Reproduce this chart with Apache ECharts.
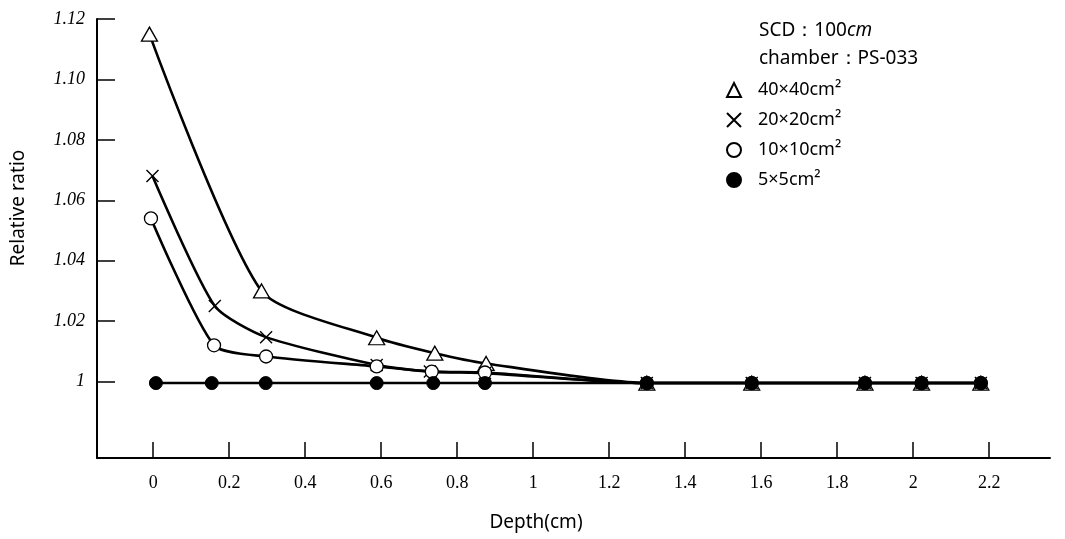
<!DOCTYPE html>
<html>
<head>
<meta charset="utf-8">
<script src="https://cdn.jsdelivr.net/npm/echarts@6/dist/echarts.min.js"></script>
<style>
  html, body { margin: 0; padding: 0; background: #fff; }
  #chart { width: 1065px; height: 539px; }
</style>
</head>
<body>
<div id="chart"></div>
<script>
// depth (cm) and relative ratio
const depth40 = [-0.01, 0.285, 0.588, 0.741, 0.876, 1.299, 1.575, 1.873, 2.022, 2.178]
const ratio40 = [1.115, 1.030, 1.0145, 1.0094, 1.006, 0.9995, 0.9995, 0.9995, 0.9995, 0.9995]

const depth20 = [-0.002, 0.162, 0.297, 0.588, 0.728, 0.873, 1.299, 1.575, 1.873, 2.022, 2.178]
const ratio20 = [1.068, 1.025, 1.0147, 1.0055, 1.0033, 1.0028, 0.9995, 0.9995, 0.9995, 0.9995, 0.9995]

const depth10 = [-0.006, 0.16, 0.297, 0.588, 0.733, 0.873, 1.299, 1.575, 1.873, 2.022, 2.178]
const ratio10 = [1.054, 1.012, 1.0083, 1.005, 1.0033, 1.003, 0.9995, 0.9995, 0.9995, 0.9995, 0.9995]

const depth5 = [0.007, 0.154, 0.296, 0.588, 0.737, 0.873, 1.299, 1.575, 1.873, 2.022, 2.178]
const ratio5 = [0.9995, 0.9995, 0.9995, 0.9995, 0.9995, 0.9995, 0.9995, 0.9995, 0.9995, 0.9995, 0.9995]

const xTicks = [0, 0.2, 0.4, 0.6, 0.8, 1, 1.2, 1.4, 1.6, 1.8, 2, 2.2]
const yTicks = [1, 1.02, 1.04, 1.06, 1.08, 1.10, 1.12]

const seriesNames = ['40×40cm²', '20×20cm²', '10×10cm²', '5×5cm²']

const pairs = (xs, ys) => xs.map((x, i) => [x, ys[i]])

const crossPath = 'path://M0,0L10,10M10,0L0,10'

const chart = echarts.init(document.getElementById('chart'), null, { renderer: 'canvas' })

const lineBase = {
  type: 'line',
  smooth: 0.22,
  lineStyle: { color: '#000', width: 2.6 },
  z: 2
}

const titleFont = '19px "Noto Sans"'

const option = {
  backgroundColor: '#fff',
  animation: false,
  textStyle: { fontFamily: 'Noto Sans', color: '#000' },
  grid: { left: 97, top: 19, right: 15, bottom: 81 },
  legend: {
    orient: 'vertical',
    left: 721,
    top: 76,
    itemWidth: 14,
    itemHeight: 14,
    itemGap: 12,
    selectedMode: false,
    textStyle: { fontSize: 18, color: '#000', fontFamily: 'Noto Sans', padding: [0, 0, 0, 12] },
    data: [
      { name: seriesNames[0], icon: 'triangle' },
      { name: seriesNames[1], icon: crossPath },
      { name: seriesNames[2], icon: 'circle' },
      { name: seriesNames[3], icon: 'circle' }
    ]
  },
  graphic: [
    {
      type: 'text', x: 759, y: 31,
      style: {
        text: 'SCD：100{i|cm}',
        font: titleFont, fill: '#000', verticalAlign: 'middle',
        rich: { i: { fontStyle: 'italic', fontSize: 19, fontFamily: 'Noto Sans' } }
      }
    },
    {
      type: 'text', x: 759, y: 59,
      style: { text: 'chamber：PS-033', font: titleFont, fill: '#000', verticalAlign: 'middle' }
    },
    {
      type: 'text', x: 19, y: 208, rotation: Math.PI / 2,
      style: { text: 'Relative ratio', font: titleFont, fill: '#000', align: 'center', verticalAlign: 'middle' }
    },
    {
      type: 'text', x: 536, y: 523,
      style: { text: 'Depth(cm)', font: titleFont, fill: '#000', align: 'center', verticalAlign: 'middle' }
    }
  ],
  xAxis: {
    type: 'value',
    min: -0.148,
    max: 2.36,
    axisLine: { show: true, onZero: false, lineStyle: { color: '#000', width: 2 } },
    axisTick: { show: true, inside: true, length: 16, lineStyle: { color: '#000', width: 1.5 }, customValues: xTicks },
    axisLabel: {
      customValues: xTicks,
      margin: 16,
      fontSize: 18,
      fontFamily: 'Liberation Serif',
      color: '#000',
      formatter: v => String(v)
    },
    splitLine: { show: false }
  },
  yAxis: {
    type: 'value',
    min: 0.9747,
    max: 1.12,
    axisLine: { show: true, onZero: false, lineStyle: { color: '#000', width: 2 } },
    axisTick: { show: true, inside: true, length: 18, lineStyle: { color: '#000', width: 1.5 }, customValues: yTicks },
    axisLabel: {
      customValues: yTicks,
      margin: 12,
      fontSize: 18,
      fontFamily: 'Liberation Serif',
      fontStyle: 'italic',
      color: '#000',
      formatter: v => (Math.abs(v - 1) < 1e-9 ? '1' : v.toFixed(2))
    },
    splitLine: { show: false }
  },
  series: [
    {
      ...lineBase,
      name: seriesNames[0],
      data: pairs(depth40, ratio40),
      symbol: 'triangle',
      symbolSize: [16, 14],
      itemStyle: { color: '#fff', borderColor: '#000', borderWidth: 1.3 }
    },
    {
      ...lineBase,
      name: seriesNames[1],
      data: pairs(depth20, ratio20),
      symbol: crossPath,
      symbolSize: 12,
      itemStyle: { color: '#fff', borderColor: '#000', borderWidth: 1.4 }
    },
    {
      ...lineBase,
      name: seriesNames[2],
      data: pairs(depth10, ratio10),
      symbol: 'circle',
      symbolSize: 13,
      itemStyle: { color: '#fff', borderColor: '#000', borderWidth: 1.3 }
    },
    {
      ...lineBase,
      name: seriesNames[3],
      data: pairs(depth5, ratio5),
      symbol: 'circle',
      symbolSize: 13,
      itemStyle: { color: '#000', borderColor: '#000', borderWidth: 1 }
    }
  ]
}

chart.setOption(option)
</script>
</body>
</html>
